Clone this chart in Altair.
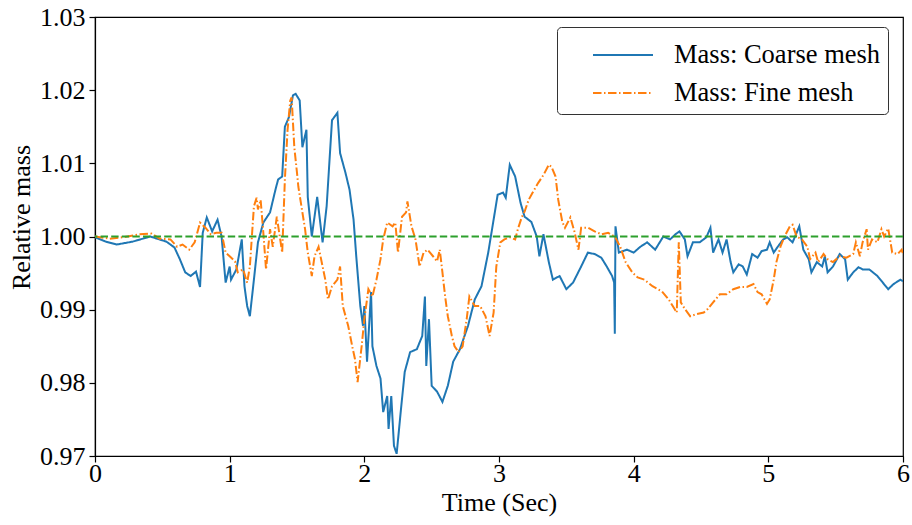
import altair as alt
import pandas as pd

names = ["Mass: Coarse mesh", "Mass: Fine mesh"]

t_coarse = [0.00, 0.08, 0.16, 0.28, 0.41, 0.53, 0.59, 0.63, 0.67, 0.71, 0.75, 0.78, 0.80, 0.83, 0.87,
            0.91, 0.94, 0.97, 1.00, 1.01, 1.05, 1.09, 1.11, 1.13, 1.15, 1.18, 1.21, 1.25, 1.30, 1.34,
            1.36, 1.39, 1.41, 1.44, 1.47, 1.49, 1.51, 1.52, 1.54, 1.57, 1.58, 1.61, 1.65, 1.69, 1.72,
            1.76, 1.80, 1.82, 1.86, 1.89, 1.92, 1.94, 1.97, 1.99, 2.00, 2.02, 2.05, 2.06, 2.09, 2.12,
            2.14, 2.17, 2.18, 2.20, 2.22, 2.24, 2.27, 2.30, 2.34, 2.39, 2.43, 2.45, 2.46, 2.48, 2.50,
            2.54, 2.58, 2.62, 2.66, 2.71, 2.77, 2.82, 2.87, 2.92, 2.96, 2.99, 3.03, 3.05, 3.08, 3.12,
            3.16, 3.19, 3.24, 3.28, 3.30, 3.33, 3.37, 3.40, 3.45, 3.50, 3.55, 3.61, 3.66, 3.71, 3.76,
            3.80, 3.84, 3.855, 3.86, 3.865, 3.89, 3.95, 4.00, 4.05, 4.10, 4.16, 4.22, 4.27, 4.31, 4.34,
            4.38, 4.40, 4.44, 4.49, 4.54, 4.57, 4.59, 4.63, 4.66, 4.69, 4.72, 4.74, 4.78, 4.81, 4.84,
            4.88, 4.92, 4.95, 4.99, 5.01, 5.04, 5.07, 5.11, 5.14, 5.18, 5.21, 5.23, 5.26, 5.30, 5.32,
            5.36, 5.40, 5.42, 5.44, 5.48, 5.53, 5.57, 5.59, 5.63, 5.67, 5.70, 5.75, 5.81, 5.85, 5.89,
            5.93, 5.98, 6.00]
m_coarse = [0.9999, 0.9993, 0.9989, 0.9993, 1.0000, 0.9993, 0.9985, 0.9969, 0.9951, 0.9946, 0.9952, 0.9931, 1.0005, 1.0026, 1.0007,
            1.0023, 1.0000, 0.9937, 0.9959, 0.9941, 0.9955, 0.9996, 0.9932, 0.9905, 0.9891, 0.9941, 0.9992, 1.0019, 1.0033, 1.0064,
            1.0078, 1.0082, 1.0150, 1.0163, 1.0193, 1.0195, 1.0189, 1.0186, 1.0122, 1.0146, 1.0054, 1.0000, 1.0054, 0.9992, 1.0041,
            1.0159, 1.0169, 1.0114, 1.0087, 1.0064, 1.0023, 0.9973, 0.9905, 0.9878, 0.9905, 0.9829, 0.9924, 0.9850, 0.9823, 0.9806,
            0.9760, 0.9782, 0.9737, 0.9782, 0.9714, 0.9703, 0.9760, 0.9815, 0.9842, 0.9846, 0.9864, 0.9918, 0.9823, 0.9887, 0.9796,
            0.9788, 0.9774, 0.9796, 0.9829, 0.9846, 0.9878, 0.9914, 0.9932, 0.9978, 1.0023, 1.0057, 1.0060, 1.0053, 1.0098, 1.0082,
            1.0046, 1.0027, 1.0020, 1.0000, 0.9973, 1.0003, 0.9965, 0.9941, 0.9946, 0.9928, 0.9937, 0.9959, 0.9978, 0.9976, 0.9971,
            0.9959, 0.9946, 0.9937, 0.9867, 1.0014, 0.9978, 0.9982, 0.9978, 0.9986, 0.9992, 0.9982, 1.0000, 0.9996, 1.0003, 1.0007,
            0.9996, 0.9973, 0.9992, 0.9992, 0.9999, 1.0012, 0.9978, 0.9996, 0.9978, 0.9996, 0.9965, 0.9951, 0.9962, 0.9959, 0.9948,
            0.9976, 0.9971, 0.9980, 0.9982, 0.9992, 0.9978, 0.9986, 0.9996, 0.9999, 0.9992, 1.0005, 1.0014, 0.9982, 0.9969, 0.9951,
            0.9965, 0.9959, 0.9973, 0.9951, 0.9959, 0.9976, 0.9969, 0.9941, 0.9951, 0.9958, 0.9955, 0.9955, 0.9946, 0.9937, 0.9928,
            0.9935, 0.9941, 0.9939]

t_fine = [0.00, 0.11, 0.21, 0.33, 0.42, 0.48, 0.56, 0.61, 0.65, 0.70, 0.74, 0.78, 0.82, 0.86, 0.90,
          0.94, 0.97, 1.00, 1.04, 1.06, 1.10, 1.13, 1.15, 1.18, 1.20, 1.21, 1.23, 1.25, 1.27, 1.30,
          1.32, 1.35, 1.39, 1.41, 1.43, 1.45, 1.46, 1.48, 1.50, 1.51, 1.54, 1.56, 1.58, 1.61, 1.63,
          1.66, 1.69, 1.71, 1.73, 1.76, 1.80, 1.82, 1.84, 1.88, 1.91, 1.93, 1.95, 1.98, 2.00, 2.03,
          2.06, 2.09, 2.12, 2.14, 2.17, 2.21, 2.23, 2.25, 2.28, 2.31, 2.32, 2.35, 2.38, 2.41, 2.44,
          2.47, 2.51, 2.54, 2.56, 2.58, 2.60, 2.62, 2.65, 2.67, 2.70, 2.73, 2.76, 2.78, 2.82, 2.86,
          2.90, 2.93, 2.96, 2.98, 3.01, 3.04, 3.08, 3.12, 3.14, 3.17, 3.19, 3.22, 3.25, 3.29, 3.33,
          3.37, 3.39, 3.42, 3.44, 3.47, 3.49, 3.53, 3.56, 3.59, 3.61, 3.66, 3.71, 3.76, 3.81, 3.86,
          3.90, 3.94, 3.99, 4.03, 4.08, 4.14, 4.21, 4.26, 4.29, 4.32, 4.335, 4.35, 4.38, 4.42, 4.47,
          4.52, 4.55, 4.59, 4.64, 4.69, 4.74, 4.79, 4.84, 4.89, 4.92, 4.95, 4.99, 5.01, 5.04, 5.06,
          5.09, 5.12, 5.16, 5.18, 5.21, 5.25, 5.29, 5.31, 5.35, 5.37, 5.41, 5.44, 5.48, 5.53, 5.58,
          5.63, 5.65, 5.68, 5.70, 5.73, 5.74, 5.77, 5.81, 5.84, 5.86, 5.89, 5.92, 5.96, 5.99, 6.00]
m_fine = [1.0000, 0.9997, 0.9999, 1.0003, 1.0004, 0.9997, 0.9996, 0.9986, 0.9989, 0.9982, 0.9992, 1.0019, 1.0012, 1.0003, 1.0005,
          1.0005, 0.9978, 0.9973, 0.9966, 0.9951, 0.9955, 0.9937, 0.9959, 1.0041, 1.0053, 1.0037, 1.0050, 1.0005, 0.9955, 1.0010,
          0.9986, 1.0027, 0.9978, 1.0078, 1.0146, 1.0186, 1.0190, 1.0122, 1.0087, 1.0068, 1.0033, 1.0010, 0.9978, 0.9946, 0.9973,
          0.9986, 0.9959, 0.9941, 0.9914, 0.9932, 0.9941, 0.9959, 0.9905, 0.9878, 0.9850, 0.9833, 0.9801, 0.9850, 0.9887, 0.9928,
          0.9918, 0.9941, 0.9969, 0.9996, 1.0019, 1.0014, 1.0019, 0.9978, 1.0027, 1.0033, 1.0048, 1.0014, 0.9996, 0.9959, 0.9978,
          0.9982, 0.9973, 0.9966, 0.9982, 0.9951, 0.9918, 0.9891, 0.9864, 0.9850, 0.9842, 0.9850, 0.9887, 0.9918, 0.9905, 0.9905,
          0.9891, 0.9864, 0.9896, 0.9959, 0.9992, 0.9996, 0.9999, 0.9996, 1.0010, 1.0027, 1.0034, 1.0050, 1.0060, 1.0073, 1.0084,
          1.0098, 1.0095, 1.0082, 1.0050, 1.0020, 1.0012, 1.0026, 1.0007, 0.9982, 1.0012, 1.0012, 1.0007, 1.0003, 1.0005, 1.0000,
          0.9986, 0.9965, 0.9951, 0.9944, 0.9941, 0.9932, 0.9925, 0.9914, 0.9905, 0.9896, 0.9992, 0.9910, 0.9901, 0.9891, 0.9894,
          0.9896, 0.9901, 0.9910, 0.9921, 0.9921, 0.9928, 0.9931, 0.9931, 0.9935, 0.9924, 0.9921, 0.9908, 0.9914, 0.9941, 0.9965,
          0.9986, 1.0000, 1.0014, 1.0016, 1.0000, 0.9996, 0.9986, 0.9969, 0.9978, 0.9965, 0.9976, 0.9969, 0.9965, 0.9973, 0.9971,
          0.9976, 0.9992, 0.9973, 0.9992, 1.0010, 0.9982, 0.9996, 0.9992, 1.0010, 1.0000, 1.0011, 0.9978, 0.9976, 0.9982, 0.9976]

reference_value = [1.0]
x_ticks = [0, 1, 2, 3, 4, 5, 6]
y_ticks = [0.97, 0.98, 0.99, 1.00, 1.01, 1.02, 1.03]

df = pd.concat([
    pd.DataFrame({"t": t_coarse, "m": m_coarse, "series": names[0]}),
    pd.DataFrame({"t": t_fine, "m": m_fine, "series": names[1]}),
], ignore_index=True)

FONT = "Liberation Serif"

legend = alt.Legend(
    title=None, orient="none", legendX=462, legendY=10,
    fillColor="white", strokeColor="#333333", cornerRadius=4, padding=7,
    labelFont=FONT, labelFontSize=26.5, labelColor="black", labelLimit=400,
    symbolType="M-1.5,0H1.5", symbolSize=1600, symbolStrokeWidth=2,
    rowPadding=3, labelOffset=30, symbolOffset=38,
)

x_enc = alt.X("t:Q", scale=alt.Scale(domain=[0, 6], nice=False, zero=False),
              axis=alt.Axis(values=x_ticks, format="d", title="Time (Sec)", labelPadding=-2,
                            labelFlush=False,
                            titleX=404, titleY=54, titleBaseline="alphabetic"))
y_enc = alt.Y("m:Q", scale=alt.Scale(domain=[0.97, 1.03], nice=False, zero=False),
              axis=alt.Axis(values=y_ticks, format=".2f", title="Relative mass", labelPadding=4,
                            labelFlush=False,
                            titleX=-66, titleY=200, titleAngle=-90,
                            titleBaseline="alphabetic", titleAlign="center"))

lines = alt.Chart(df).mark_line(strokeWidth=2, clip=True).encode(
    x=x_enc,
    y=y_enc,
    color=alt.Color("series:N", scale=alt.Scale(domain=names, range=["#1f77b4", "#ff7f0e"]), legend=legend),
    strokeDash=alt.StrokeDash("series:N", scale=alt.Scale(domain=names, range=[[1, 0], [8.5, 2.5, 1.5, 2.5]]), legend=legend),
)

rule = alt.Chart(pd.DataFrame({"y": reference_value})).mark_rule(
    color="#2ca02c", strokeDash=[7.4, 3.2], strokeWidth=2
).encode(y="y:Q")

chart = alt.layer(lines, rule).properties(
    width=808, height=439,
    padding={"left": 95, "top": 17, "right": 9, "bottom": 69},
    autosize=alt.AutoSizeParams(type="none"),
    background="white",
).configure_view(
    stroke="black", strokeWidth=1.2
).configure_axis(
    grid=False, domainColor="black", tickColor="black", labelColor="black", titleColor="black",
    labelFont=FONT, titleFont=FONT, labelFontSize=26, titleFontSize=26,
    titleFontWeight="normal", tickSize=6, domainWidth=1.2, tickWidth=1.2,
)

chart.save("out.html", embed_options={"renderer": "svg", "actions": False})
